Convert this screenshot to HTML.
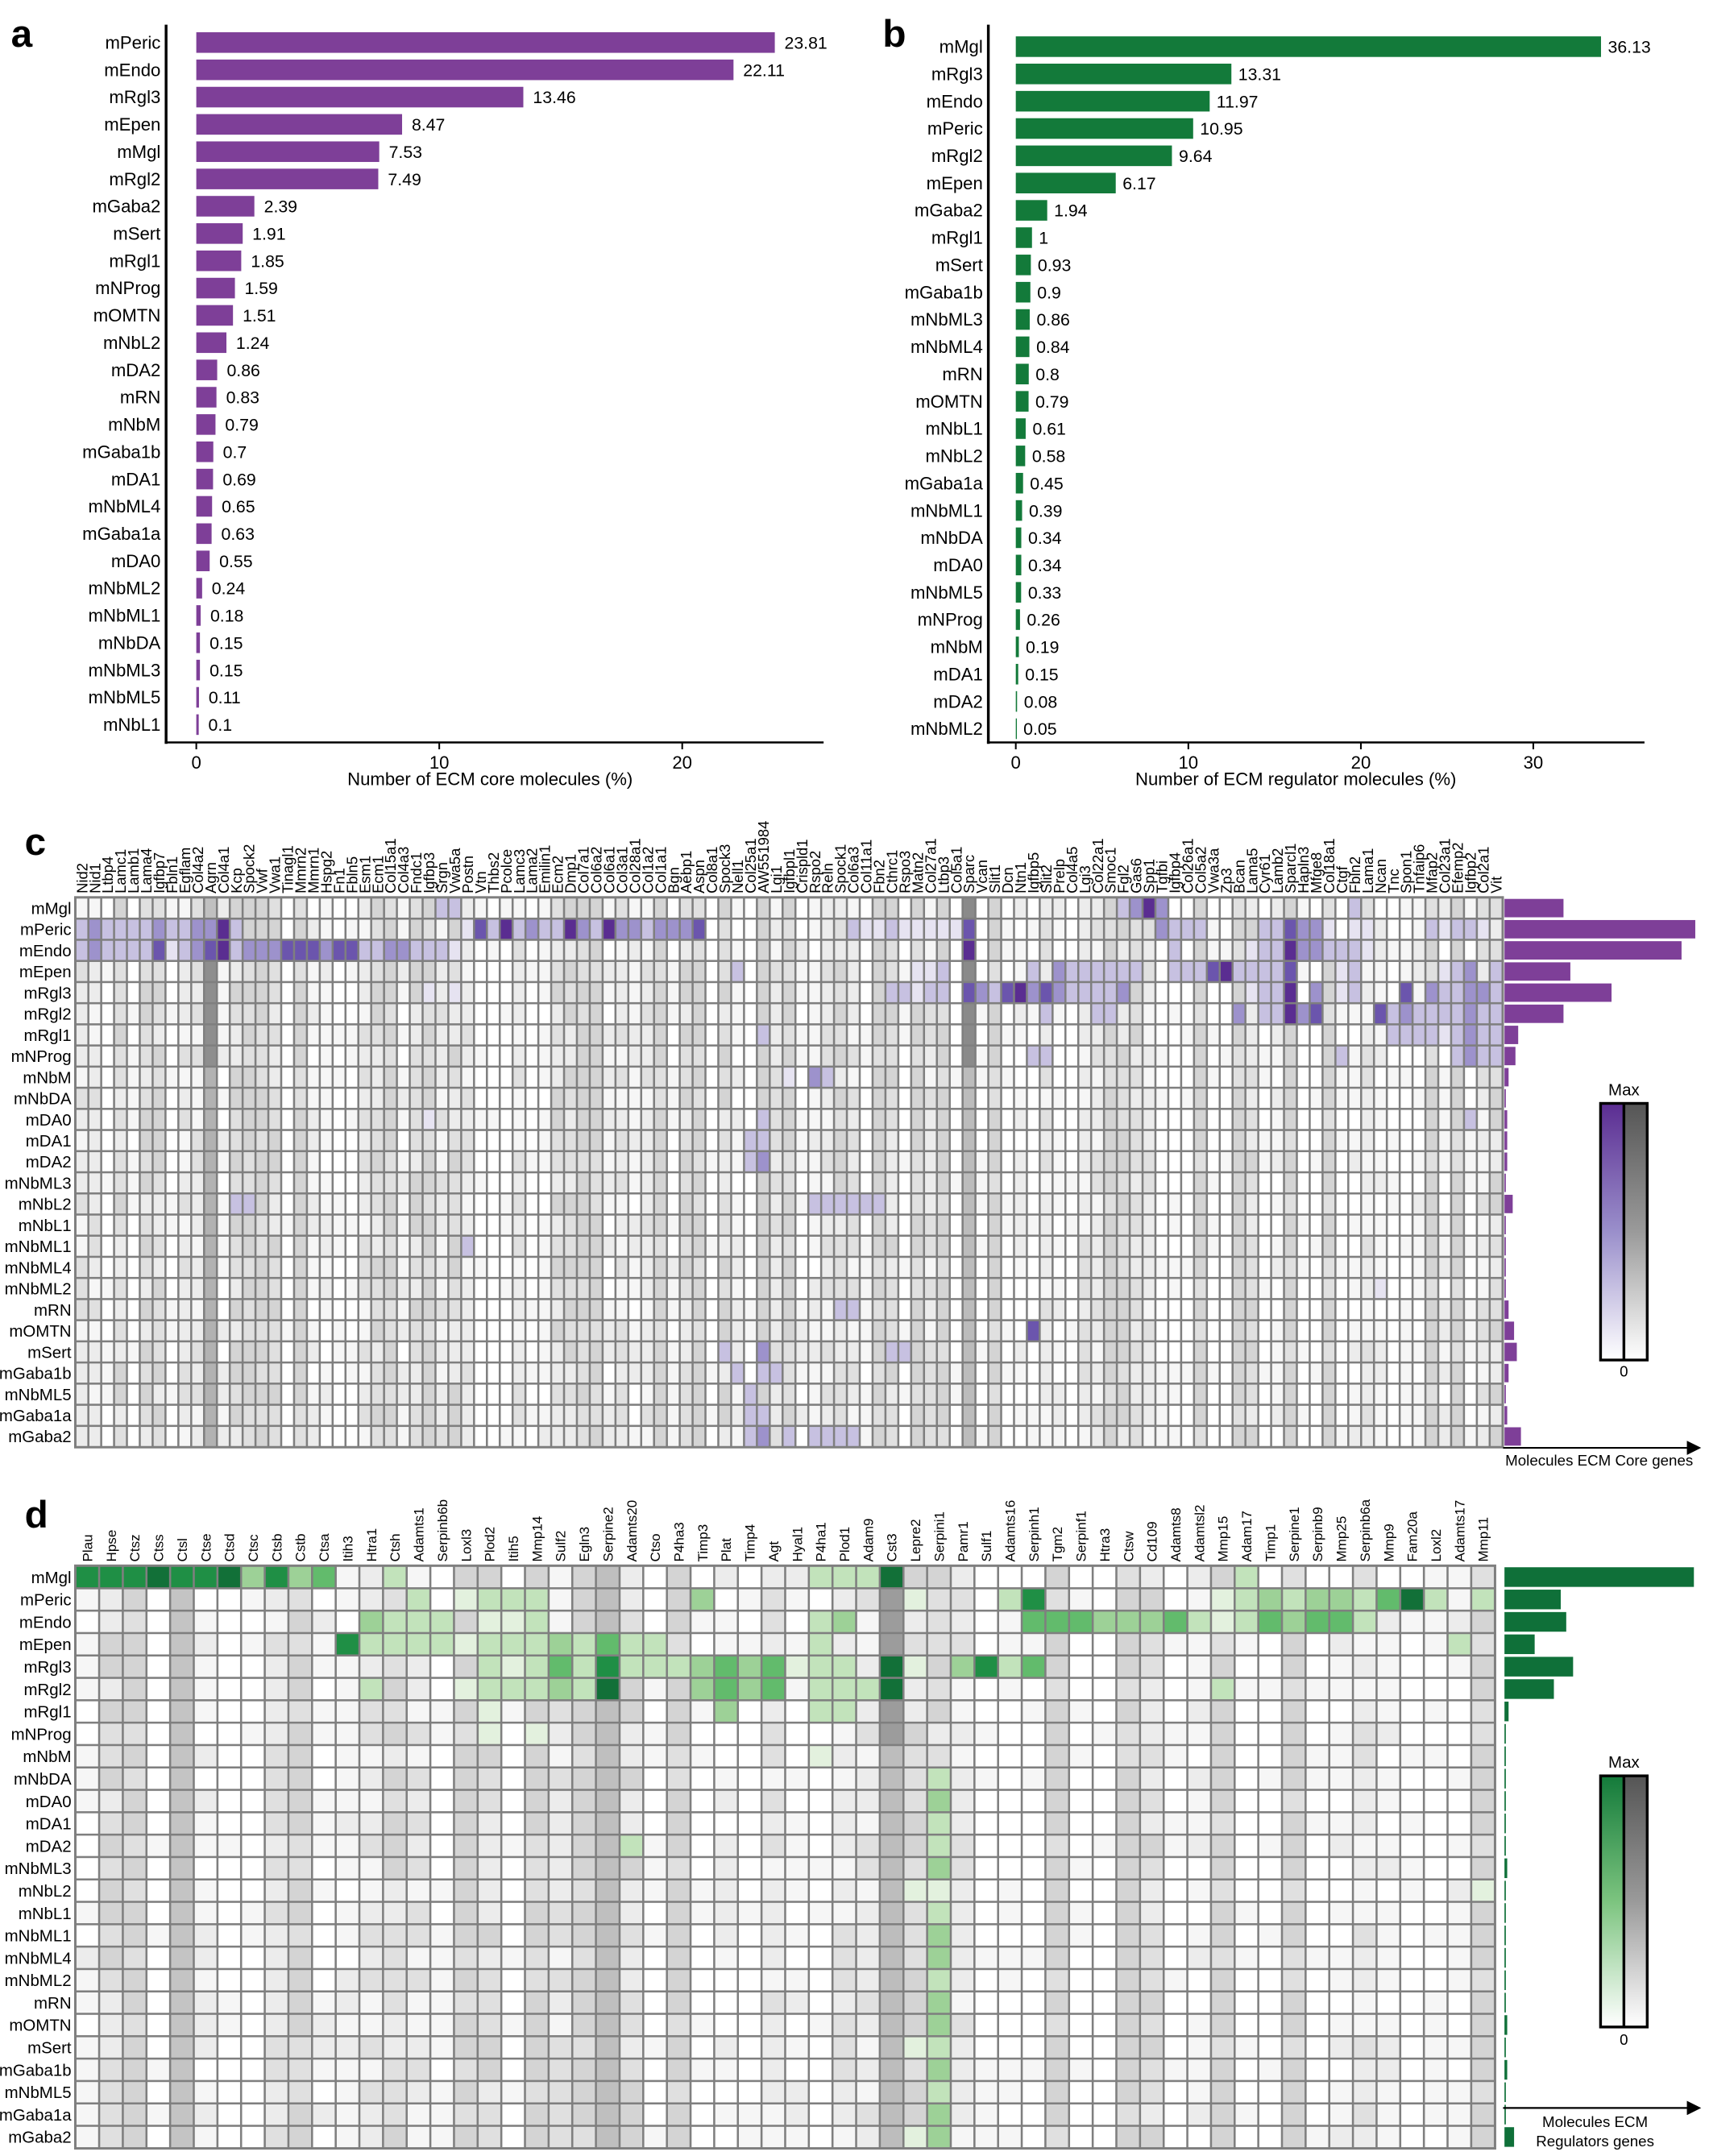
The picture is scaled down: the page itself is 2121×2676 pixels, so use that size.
<!DOCTYPE html>
<html><head><meta charset="utf-8">
<style>
html,body{margin:0;padding:0;background:#fff;}
svg{display:block;font-family:"Liberation Sans",sans-serif;}
</style></head>
<body>
<svg id="s" xmlns="http://www.w3.org/2000/svg" width="2121" height="2676" viewBox="0 0 1245 1571" preserveAspectRatio="none">
<defs>
<linearGradient id="gp" x1="0" y1="0" x2="0" y2="1"><stop offset="0" stop-color="#5b2d92"/><stop offset="0.5" stop-color="#9a8fcb"/><stop offset="1" stop-color="#ffffff"/></linearGradient>
<linearGradient id="gg" x1="0" y1="0" x2="0" y2="1"><stop offset="0" stop-color="#555555"/><stop offset="0.5" stop-color="#9a9a9a"/><stop offset="1" stop-color="#ffffff"/></linearGradient>
<linearGradient id="gn" x1="0" y1="0" x2="0" y2="1"><stop offset="0" stop-color="#137a3a"/><stop offset="0.5" stop-color="#7cc47f"/><stop offset="1" stop-color="#ffffff"/></linearGradient>
<marker id="ar" markerWidth="8" markerHeight="8" refX="7" refY="4" orient="auto"><path d="M0,0 L8,4 L0,8 z" fill="#000"/></marker>
</defs>
<g id="root"></g>
</svg>
<script>
(function(){
var root=document.getElementById("root"),out=[];
function R(x,y,w,h,f,extra){out.push('<rect x="'+x.toFixed(2)+'" y="'+y.toFixed(2)+'" width="'+w.toFixed(2)+'" height="'+h.toFixed(2)+'" fill="'+f+'" '+(extra||'')+'/>');}
function T(x,y,s,sz,anc,extra){out.push('<text x="'+x+'" y="'+y+'" font-size="'+sz+'" text-anchor="'+(anc||'start')+'" '+(extra||'')+'>'+s+'</text>');}
function L(x1,y1,x2,y2,w,extra){out.push('<line x1="'+x1+'" y1="'+y1+'" x2="'+x2+'" y2="'+y2+'" stroke="#000" stroke-width="'+w+'" '+(extra||'')+'/>');}

// ---- Panel a ----
var aN=["mPeric","mEndo","mRgl3","mEpen","mMgl","mRgl2","mGaba2","mSert","mRgl1","mNProg","mOMTN","mNbL2","mDA2","mRN","mNbM","mGaba1b","mDA1","mNbML4","mGaba1a","mDA0","mNbML2","mNbML1","mNbDA","mNbML3","mNbML5","mNbL1"];
var aV=[23.81,22.11,13.46,8.47,7.53,7.49,2.39,1.91,1.85,1.59,1.51,1.24,0.86,0.83,0.79,0.7,0.69,0.65,0.63,0.55,0.24,0.18,0.15,0.15,0.11,0.1];
T(8,34,"a",28,"start",'font-weight="bold"');
for(var i=0;i<26;i++){var cy=31+i*19.88,w=aV[i]*17.7;
 R(143,cy-7.5,w,15,"#7e3f98");
 T(117,cy+4.5,aN[i],13,"end");
 T(143+w+7,cy+4.5,String(aV[i]),12.5,"start");}
L(121,18,121,542,2);L(120,541,600,541,1.5);
[[0,143],[10,320],[20,497]].forEach(function(t){L(t[1],541,t[1],546,1.2);T(t[1],560,String(t[0]),13,"middle");});
T(357,572,"Number of ECM core molecules (%)",13,"middle");

// ---- Panel b ----
var bN=["mMgl","mRgl3","mEndo","mPeric","mRgl2","mEpen","mGaba2","mRgl1","mSert","mGaba1b","mNbML3","mNbML4","mRN","mOMTN","mNbL1","mNbL2","mGaba1a","mNbML1","mNbDA","mDA0","mNbML5","mNProg","mNbM","mDA1","mDA2","mNbML2"];
var bV=[36.13,13.31,11.97,10.95,9.64,6.17,1.94,1,0.93,0.9,0.86,0.84,0.8,0.79,0.61,0.58,0.45,0.39,0.34,0.34,0.33,0.26,0.19,0.15,0.08,0.05];
T(643,34,"b",28,"start",'font-weight="bold"');
for(var i=0;i<26;i++){var cy=34+i*19.88,w=bV[i]*11.8;
 R(740,cy-7.5,Math.max(w,0.8),15,"#137a3a");
 T(716,cy+4.5,bN[i],13,"end");
 T(740+w+5,cy+4.5,String(bV[i]),12.5,"start");}
L(720,18,720,542,2);L(719,541,1198,541,1.5);
[[0,740],[10,865.7],[20,991.4],[30,1117]].forEach(function(t){L(t[1],541,t[1],546,1.2);T(t[1],560,String(t[0]),13,"middle");});
T(944,572,"Number of ECM regulator molecules (%)",13,"middle");

var rows=["mMgl","mPeric","mEndo","mEpen","mRgl3","mRgl2","mRgl1","mNProg","mNbM","mNbDA","mDA0","mDA1","mDA2","mNbML3","mNbL2","mNbL1","mNbML1","mNbML4","mNbML2","mRN","mOMTN","mSert","mGaba1b","mNbML5","mGaba1a","mGaba2"];
var greys=["#ffffff","#f6f6f6","#ececec","#e0e0e0","#d4d4d4"];
function hash(a,b){var h=(a*374761393+b*668265263)^0x5bd1e995;h=(h^(h>>>13))*1274126177;h=h^(h>>>16);return (h>>>0)/4294967296;}
function parse(spec){var m={};for(var r in spec){m[r]={};spec[r].split(",").forEach(function(p){var q=p.split(":");m[r][+q[0]]=+q[1];});}return m;}

function heat(o){
 var nc=o.cols.length,cw=(o.x1-o.x0)/nc;
 R(o.x0-1,o.y0-1,o.x1-o.x0+2,o.rh*26+2,"#7f7f7f");
 var ov=parse(o.ov);
 for(var c=0;c<nc;c++){
  var base=Math.floor(Math.pow(hash(c+o.seed,7),1.3)*5);
  for(var r=0;r<26;r++){
   var x=o.x0+c*cw,y=o.y0+r*o.rh,f;
   var lv=ov[r]&&ov[r][c+1];
   if(lv){f=o.pal[lv];}
   else if(o.special[c+1]){f=o.special[c+1](r);}
   else{var v=base+Math.round((hash(c+o.seed,r+3)-0.5)*2.2);v=Math.max(0,Math.min(4,v));f=greys[v];}
   R(x+0.75,y+0.75,cw-1.5,o.rh-1.5,f);
  }
 }
 for(var c=0;c<nc;c++){var cx=o.x0+(c+0.5)*cw+o.fs*0.36;
  out.push('<text transform="translate('+cx.toFixed(2)+','+(o.y0-3)+') rotate(-90)" font-size="'+o.fs+'">'+o.cols[c]+'</text>');}
 for(var r=0;r<26;r++){T(o.x0-3,o.y0+(r+0.5)*o.rh+4.3,rows[r],12,"end");}
 for(var r=0;r<26;r++){var bw=o.bars[r]-1096;R(1096,o.y0+r*o.rh+1,Math.max(bw,0.8),o.rh-2,o.bc);}
}

var cCols="Nid2 Nid1 Ltbp4 Lamc1 Lamb1 Lama4 Igfbp7 Fbln1 Egflam Col4a2 Agrn Col4a1 Kcp Spock2 Vwf Vwa1 Tinagl1 Mmrn2 Mmrn1 Hspg2 Fn1 Fbln5 Esm1 Ecm1 Col15a1 Col4a3 Fndc1 Igfbp3 Srgn Vwa5a Postn Vtn Thbs2 Pcolce Lamc3 Lama2 Emilin1 Ecm2 Dmp1 Col7a1 Col6a2 Col6a1 Col3a1 Col28a1 Col1a2 Col1a1 Bgn Aebp1 Aspn Col8a1 Spock3 Nell1 Col25a1 AW551984 Lgi1 Igfbpl1 Crispld1 Rspo2 Reln Spock1 Col6a3 Col11a1 Fbn2 Cthrc1 Rspo3 Matn2 Col27a1 Ltbp3 Col5a1 Sparc Vcan Slit1 Dcn Ntn1 Igfbp5 Slit2 Prelp Col4a5 Lgi3 Col22a1 Smoc1 Fgl2 Gas6 Spp1 Tgfbi Igfbp4 Col26a1 Col5a2 Vwa3a Zp3 Bcan Lama5 Cyr61 Lamb2 Sparcl1 Hapln3 Mfge8 Col18a1 Ctgf Fbln2 Lama1 Ncan Tnc Spon1 Tnfaip6 Mfap2 Col23a1 Efemp2 Igfbp2 Col2a1 Vit".split(" ");
var pP=[null,"#e6e3f1","#c7c1e1","#9d92cc","#6b55ad","#5a2d91","#4e2585"];
T(18,623,"c",28,"start",'font-weight="bold"');
heat({x0:55,x1:1094.6,y0:654,rh:15.4,cols:cCols,fs:10.8,seed:11,pal:pP,bc:"#7e3f98",
 special:{11:function(r){return r<1?"#c0c0c0":(r<3?null:(r>=3&&r<8?"#8e8e8e":"#b2b2b2"));},54:function(r){return "#d4d4d4";},70:function(r){return r<8?"#8a8a8a":"#bcbcbc";}},
 ov:{0:"29:2,30:2,82:2,83:3,84:5,85:3,100:2",
  1:"1:2,2:3,3:2,4:2,5:2,6:2,7:3,8:2,9:2,10:3,11:3,12:5,13:2,31:1,32:4,33:2,34:5,35:2,36:3,37:2,38:2,39:5,40:3,41:2,42:5,43:3,44:3,45:2,46:3,47:3,48:3,49:4,61:2,62:1,63:1,64:2,65:1,66:1,67:1,68:1,69:1,70:4,85:3,86:2,87:2,88:2,93:2,94:2,95:4,96:3,97:3,98:1,100:1,101:1,106:2,107:1,108:2,109:2,110:1",
  2:"1:2,2:3,3:2,4:2,5:2,6:2,7:4,8:1,9:2,10:3,11:4,12:5,13:2,14:3,15:3,16:3,17:4,18:4,19:4,20:3,21:4,22:4,23:2,24:2,25:3,26:3,27:2,28:2,29:2,30:1,70:5,86:2,92:1,93:2,94:2,95:5,96:3,97:3,98:2,99:2,100:2,101:1",
  3:"52:2,66:1,67:1,68:2,75:2,77:3,78:2,79:2,80:2,81:2,82:2,83:2,86:2,87:2,88:2,89:4,90:5,91:2,92:2,93:2,94:2,95:4,99:1,100:2,107:1,108:2,109:3,111:2",
  4:"28:1,30:1,64:2,65:2,66:1,67:2,68:2,70:4,71:3,72:2,73:4,74:5,75:3,76:4,77:3,78:2,79:2,80:2,81:2,82:3,92:1,93:2,94:2,95:5,97:3,99:1,100:2,104:4,106:3,107:2,108:2,109:3,110:3,111:2",
  5:"76:2,80:2,81:2,91:3,93:2,94:2,95:5,96:3,97:4,102:4,103:2,104:3,105:2,106:2,107:2,108:2,109:3,110:2,111:2",
  6:"54:2,103:2,104:2,105:2,106:2,107:1,108:2,109:3,110:2,111:2",
  7:"75:2,76:2,99:2,108:2,109:3,110:2,111:2",
  8:"56:1,58:3,59:2",10:"28:1,54:2,109:2",11:"53:2,54:2",12:"53:2,54:3",
  14:"13:2,14:2,58:2,59:2,60:2,61:2,62:2,63:2",16:"31:2",18:"102:1",19:"60:2,61:2",20:"75:4",
  21:"51:2,54:3,64:2,65:2",22:"52:2,54:2,55:2",23:"53:2",24:"53:2,54:2",25:"53:2,54:3,56:2,58:2,59:2,60:2,61:2"},
 bars:[1139,1235,1225,1144,1174,1139,1106,1104,1099,1097,1098,1098,1098,1097,1102,1097,1097,1097,1097,1099,1103,1105,1099,1097,1098,1108]});
T(1183,798,"Max",12,"middle");
R(1166,804,17,187,"url(#gp)");R(1183,804,17,187,"url(#gg)");
out.push('<rect x="1166" y="804" width="34" height="187" fill="none" stroke="#000" stroke-width="2"/>');
L(1183,804,1183,991,2);
T(1183,1003,"0",11,"middle");
L(1095,1055,1238,1055,1.3,'marker-end="url(#ar)"');
T(1165,1068,"Molecules ECM Core genes",11,"middle");

// ---- Panel d ----
var dCols="Plau Hpse Ctsz Ctss Ctsl Ctse Ctsd Ctsc Ctsb Cstb Ctsa Itih3 Htra1 Ctsh Adamts1 Serpinb6b Loxl3 Plod2 Itih5 Mmp14 Sulf2 Egln3 Serpine2 Adamts20 Ctso P4ha3 Timp3 Plat Timp4 Agt Hyal1 P4ha1 Plod1 Adam9 Cst3 Lepre2 Serpini1 Pamr1 Sulf1 Adamts16 Serpinh1 Tgm2 Serpinf1 Htra3 Ctsw Cd109 Adamts8 Adamtsl2 Mmp15 Adam17 Timp1 Serpine1 Serpinb9 Mmp25 Serpinb6a Mmp9 Fam20a Loxl2 Adamts17 Mmp11".split(" ");
var pG=[null,"#e3f1de","#c2e3bb","#9dd197","#62bb6c","#1f8f45","#127038"];
T(18,1113,"d",28,"start",'font-weight="bold"');
heat({x0:55,x1:1089,y0:1141,rh:16.32,cols:dCols,fs:10,seed:57,pal:pG,bc:"#0f7039",
 special:{35:function(r){return r<8?"#9c9c9c":"#bdbdbd";},23:function(r){return "#bfbfbf";},5:function(r){return "#c4c4c4";}},
 ov:{0:"1:5,2:5,3:5,4:6,5:5,6:5,7:6,8:3,9:5,10:3,11:4,14:2,32:2,33:2,34:2,35:6,50:2",
  1:"15:2,17:1,18:2,19:2,20:2,27:3,36:1,40:2,41:5,49:1,50:2,51:3,52:2,53:3,54:3,55:2,56:4,57:6,58:2,60:2",
  2:"13:3,14:2,15:2,16:2,18:1,19:1,20:2,32:2,33:3,41:4,42:4,43:4,44:3,45:3,46:3,47:4,48:2,49:1,50:2,51:4,52:3,53:4,54:4,55:2",
  3:"12:5,13:2,14:2,15:2,16:2,17:1,18:2,19:2,20:2,21:3,22:2,23:4,24:2,25:2,32:2,59:2",
  4:"18:2,19:1,20:2,21:4,22:2,23:5,24:2,25:2,26:2,27:3,28:4,29:3,30:4,31:1,32:2,33:2,35:6,36:1,38:3,39:5,40:2,41:4",
  5:"13:2,17:1,18:2,19:2,20:2,21:3,22:2,23:6,27:3,28:4,29:3,30:4,32:2,33:2,34:2,35:6,49:2",
  6:"18:1,28:3,32:2,33:2",7:"18:1,20:1",8:"32:1",
  9:"37:2",10:"37:3",11:"37:2",12:"24:2,37:2",13:"37:3",14:"36:1,37:1,60:1",15:"37:2",16:"37:3",17:"37:3",18:"37:2",
  19:"37:3",20:"37:3",21:"36:1,37:2",22:"37:3",23:"37:2",24:"37:3",25:"36:1,37:3"},
 bars:[1234,1137,1141,1118,1146,1132,1099,1097,1097,1097,1097,1097,1097,1098,1097,1097,1097,1097,1097,1097,1098,1097,1098,1097,1097,1103]});
T(1183,1288,"Max",12,"middle");
R(1166,1294,17,183,"url(#gn)");R(1183,1294,17,183,"url(#gg)");
out.push('<rect x="1166" y="1294" width="34" height="183" fill="none" stroke="#000" stroke-width="2"/>');
L(1183,1294,1183,1477,2);
T(1183,1490,"0",11,"middle");
L(1095,1536,1238,1536,1.3,'marker-end="url(#ar)"');
T(1162,1550,"Molecules ECM",11,"middle");
T(1162,1564,"Regulators genes",11,"middle");

root.innerHTML=out.join("");
})();
</script>
</body></html>
